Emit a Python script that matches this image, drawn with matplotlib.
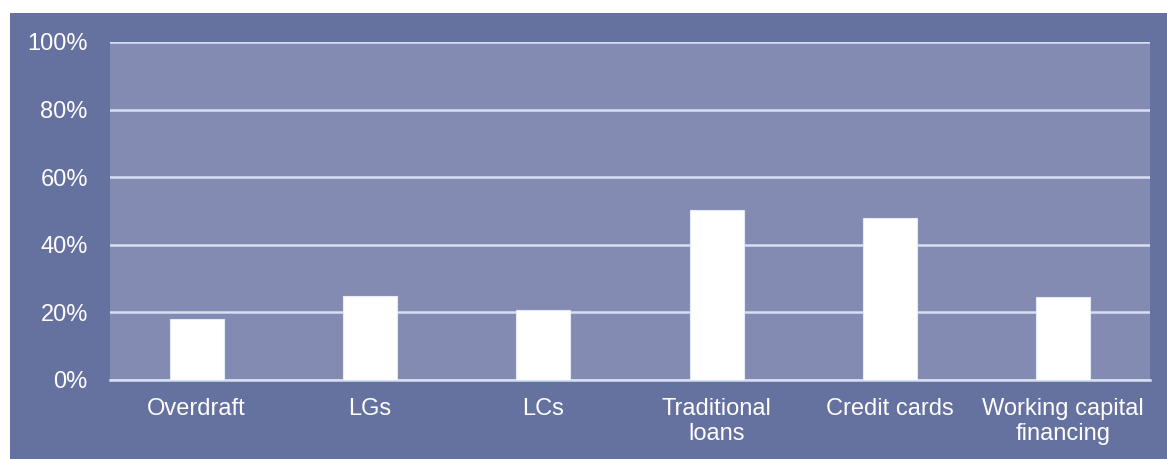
#!/usr/bin/env python3
import matplotlib

matplotlib.use("Agg")
import matplotlib.pyplot as plt
from matplotlib.patches import Rectangle
from matplotlib.ticker import FuncFormatter

CATEGORIES = ["Overdraft", "LGs", "LCs", "Traditional\nloans", "Credit cards", "Working capital\nfinancing"]
SHARES = [18.0, 24.9, 20.6, 50.3, 48.0, 24.5]
Y_TICKS = [0, 20, 40, 60, 80, 100]

OUTER_BG = "#65719F"
PLOT_BG = "#838BB3"
GRID = "#D6E0F2"

W, H = 1167, 459

plt.rcParams["font.family"] = ["Liberation Sans", "DejaVu Sans"]

fig = plt.figure(figsize=(W / 100, H / 100), dpi=100, facecolor="white")
fig.patches.append(Rectangle((10 / W, 0), (W - 10) / W, (H - 13) / H,
                             transform=fig.transFigure, facecolor=OUTER_BG,
                             edgecolor="none", zorder=-10))

ax = fig.add_axes([110 / W, (H - 380) / H, 1040 / W, 338 / H])
ax.set_zorder(1)
ax.set_facecolor(PLOT_BG)

x = range(len(CATEGORIES))
ax.bar(x, SHARES, width=0.31, color="white", edgecolor="#E4EAF6", linewidth=0.8, zorder=3)

ax.set_xlim(-0.5, len(CATEGORIES) - 0.5)
ax.set_ylim(0, 100)
ax.set_yticks(Y_TICKS)
ax.yaxis.set_major_formatter(FuncFormatter(lambda v, _: f"{v:.0f}%"))
ax.set_xticks(list(x))
ax.set_xticklabels(CATEGORIES)
ax.grid(axis="y", color=GRID, linewidth=1.8, zorder=1)
ax.set_axisbelow(True)

for side in ("left", "right", "top"):
    ax.spines[side].set_visible(False)
ax.spines["bottom"].set_color(GRID)
ax.spines["bottom"].set_linewidth(1.8)

ax.tick_params(axis="y", length=0, pad=16, labelsize=17, labelcolor="white")
ax.tick_params(axis="x", length=0, pad=13, labelsize=17, labelcolor="white")

fig.savefig("out.png", dpi=100, facecolor="white")
plt.close(fig)
